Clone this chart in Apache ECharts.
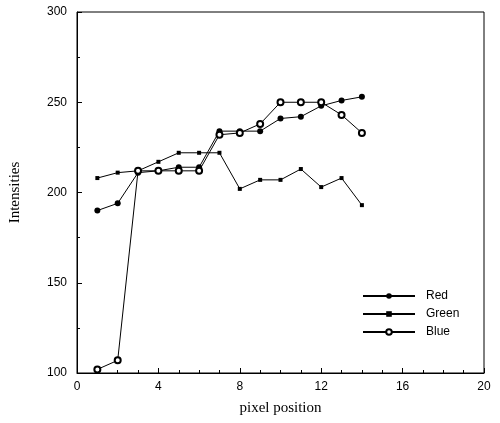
<!DOCTYPE html>
<html lang="en">
<head>
    <meta charset="UTF-8">
    <title>intensities</title>
    <script src="https://cdn.jsdelivr.net/npm/echarts@6/dist/echarts.min.js"></script>
    <style>
        html, body { margin: 0; padding: 0; background: #fff; }
    </style>
</head>
<body>
<div id="main" style="width:500px;height:423px;"></div>
<script>
    // pixel positions 1..14
    var positions = [1, 2, 3, 4, 5, 6, 7, 8, 9, 10, 11, 12, 13, 14];
    var redValues = [190, 194, 211, 212, 214, 214, 234, 234, 234, 241, 242, 248, 251, 253];
    var greenValues = [208, 211, 212, 217, 222, 222, 222, 202, 207, 207, 213, 203, 208, 193];
    var blueValues = [102, 107, 212, 212, 212, 212, 232, 233, 238, 250, 250, 250, 243, 233];

    function pairs(vals) {
        return positions.map(function (x, i) { return [x, vals[i]]; });
    }

    var lineStyle = { color: '#000', width: 1 };

    var chart = echarts.init(document.getElementById('main'));
    chart.setOption({
        animation: false,
        grid: {
            left: 77, right: 16, top: 12, bottom: 50,
            show: true, borderColor: '#000', borderWidth: 1, backgroundColor: 'transparent'
        },
        legend: {
            orient: 'vertical',
            left: 357,
            top: 285,
            itemWidth: 52,
            itemHeight: 7,
            itemGap: 6,
            textStyle: { fontFamily: 'Liberation Sans', fontSize: 12, color: '#000', padding: [0, 0, 0, 6] },
            data: ['Red', 'Green', 'Blue']
        },
        xAxis: {
            type: 'value',
            min: 0, max: 20, interval: 4,
            name: 'pixel position',
            nameLocation: 'middle',
            nameGap: 28,
            nameTextStyle: { fontFamily: 'Liberation Serif', fontSize: 15, color: '#000' },
            axisLine: { lineStyle: { color: '#000' } },
            axisTick: { inside: true, length: 5, lineStyle: { color: '#000' } },
            minorTick: { show: true, splitNumber: 4, length: 3, lineStyle: { color: '#000' } },
            axisLabel: { fontFamily: 'Liberation Sans', fontSize: 12, color: '#000', margin: 8 },
            splitLine: { show: false }
        },
        yAxis: {
            type: 'value',
            min: 100, max: 300, interval: 50,
            name: 'Intensities',
            nameLocation: 'middle',
            nameGap: 54,
            nameTextStyle: { fontFamily: 'Liberation Serif', fontSize: 15, color: '#000' },
            axisLine: { show: true, lineStyle: { color: '#000' } },
            axisTick: { inside: true, length: 5, lineStyle: { color: '#000' } },
            minorTick: { show: true, splitNumber: 2, length: 3, lineStyle: { color: '#000' } },
            axisLabel: { fontFamily: 'Liberation Sans', fontSize: 12, color: '#000', margin: 10 },
            splitLine: { show: false }
        },
        series: [
            {
                name: 'Red', type: 'line', data: pairs(redValues),
                symbol: 'circle', symbolSize: 6,
                lineStyle: lineStyle,
                itemStyle: { color: '#000' }
            },
            {
                name: 'Green', type: 'line', data: pairs(greenValues),
                symbol: 'rect', symbolSize: 4,
                lineStyle: lineStyle,
                itemStyle: { color: '#000' }
            },
            {
                name: 'Blue', type: 'line', data: pairs(blueValues),
                symbol: 'emptyCircle', symbolSize: 6,
                lineStyle: lineStyle,
                itemStyle: { color: '#000', borderWidth: 1.5 }
            }
        ]
    });
</script>
</body>
</html>
